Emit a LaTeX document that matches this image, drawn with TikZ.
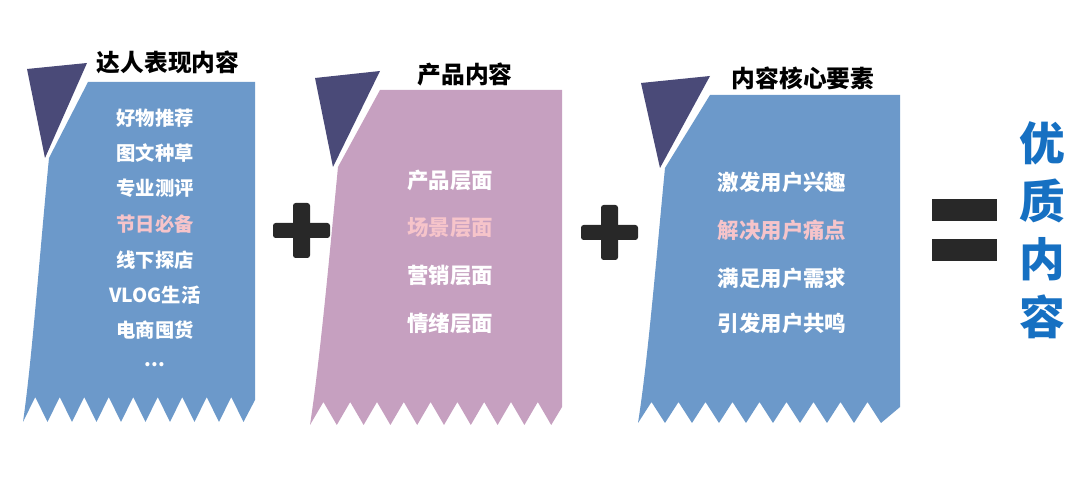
\documentclass[tikz,border=0pt]{standalone}
\usepackage{fontspec}
\setmainfont{Noto Sans CJK SC}
\usepackage{tikz}
\usetikzlibrary{positioning}
\definecolor{panelblue}{RGB}{108, 153, 202}
\definecolor{panelpink}{RGB}{198, 160, 192}
\definecolor{flagnavy}{RGB}{74, 74, 120}
\definecolor{hilitepink}{RGB}{246, 196, 202}
\definecolor{goalblue}{RGB}{22, 112, 194}
\definecolor{signgray}{RGB}{40, 40, 40}

\begin{document}
\begin{tikzpicture}[x=0.02cm, y=-0.02cm]
    % Styles
    \tikzstyle{heading} = [text=black, font=\bfseries\fontsize{13.5}{15}\selectfont, inner sep=0pt]
    \tikzstyle{item} = [text=white, font=\bfseries\fontsize{12.2}{14}\selectfont, inner sep=0pt]
    \tikzstyle{hot} = [item, text=hilitepink]
    \tikzstyle{smallitem} = [item, font=\bfseries\fontsize{11}{13}\selectfont]
    \tikzstyle{smallhot} = [smallitem, text=hilitepink]
    \tikzstyle{goal} = [text=goalblue, font=\bfseries\fontsize{26}{33}\selectfont, align=center, inner sep=0pt]
    \tikzstyle{sign} = [fill=signgray, rounded corners=1.5pt]

    \useasboundingbox[fill=white] (0,0) rectangle (1080,479);

    % Panels
    \fill[flagnavy] (27,69) -- (87,63) -- (45,158) -- cycle;
    \fill[panelblue] (88,82) -- (255,82) -- (255,400) -- (243.5,422)
        \foreach \i in {8,...,0} { -- ({35.25+24.5*\i},397) -- ({23+24.5*\i},422) }
        .. controls (32,360) and (40,250) .. (49,158) -- cycle;

    \fill[flagnavy] (315,78) -- (380,71) -- (333,167) -- cycle;
    \fill[panelpink] (380,90) -- (562,90) -- (562,407) -- (551.2,425)
        \foreach \i in {8,...,0} { -- ({323.4+26.8*\i},402) -- ({310+26.8*\i},425) }
        .. controls (320,360) and (330,250) .. (338,167) -- cycle;

    \fill[flagnavy] (641,83) -- (710,76) -- (660,168) -- cycle;
    \fill[panelblue] (710,95) -- (900,95) -- (900,407) -- (881,423)
        \foreach \i in {8,...,0} { -- ({651.5+27*\i},402) -- ({638+27*\i},423) }
        .. controls (648,360) and (657,250) .. (665,168) -- cycle;

    % Titles
    \node (talent) [heading] at (168,62) {达人表现内容};
    \node (product) [heading] at (465,75) {产品内容};
    \node (core) [heading] at (803,78) {内容核心要素};

    % Talent items
    \node (t1) [smallitem] at (155,118) {好物推荐};
    \node (t2) [smallitem] at (155,153) {图文种草};
    \node (t3) [smallitem] at (155,188) {专业测评};
    \node (t4) [smallhot] at (155,224) {节日必备};
    \node (t5) [smallitem] at (155,260) {线下探店};
    \node (t6) [smallitem] at (155,295) {VLOG生活};
    \node (t7) [smallitem] at (155,330) {电商囤货};
    \node (t8) [smallitem] at (155,365) {...};

    % Product items
    \node (p1) [item] at (450,180) {产品层面};
    \node (p2) [hot] at (450,228) {场景层面};
    \node (p3) [item] at (450,275) {营销层面};
    \node (p4) [item] at (450,323) {情绪层面};

    % Core items
    \node (c1) [item] at (782,182) {激发用户兴趣};
    \node (c2) [hot] at (782,230) {解决用户痛点};
    \node (c3) [item] at (782,278) {满足用户需求};
    \node (c4) [item] at (782,323) {引发用户共鸣};

    % Signs
    \fill[sign] (273,223) rectangle (330,238);
    \fill[sign] (293,203) rectangle (310,258);
    \fill[sign] (581,225) rectangle (638,240);
    \fill[sign] (601,205) rectangle (618,260);
    \fill[signgray] (932,199) rectangle (997,221);
    \fill[signgray] (932,239) rectangle (997,261);

    % Result
    \node (result) [goal] at (1042,230) {优\\质\\内\\容};
\end{tikzpicture}
\end{document}
